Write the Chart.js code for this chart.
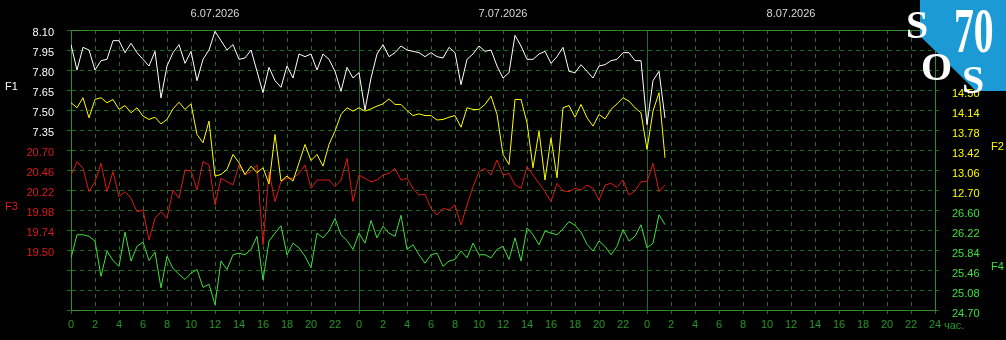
<!DOCTYPE html>
<html><head><meta charset="utf-8">
<script src="https://cdn.jsdelivr.net/npm/chart.js@4"></script>
<style>html,body{margin:0;padding:0;background:#000;overflow:hidden}canvas{display:block}</style>
</head><body>
<canvas id="c" width="1006" height="340"></canvas>
<script>
// ---- data (one value per half hour, starting 6.07.2026 00:00) ----
const hourStep = 0.5;
const f1 = [7.99,7.80,7.97,7.95,7.80,7.87,7.88,8.02,8.02,7.93,8.00,7.93,7.88,7.83,7.94,7.59,7.83,7.93,7.99,7.85,7.94,7.72,7.88,7.95,8.09,
  8.02,7.95,7.99,7.88,7.89,7.95,7.79,7.63,7.82,7.72,7.67,7.83,7.74,7.92,7.90,7.92,7.80,7.92,7.88,7.79,7.64,7.82,7.74,7.78,7.50,
  7.74,7.92,7.99,7.90,7.93,7.98,7.95,7.94,7.93,7.90,7.93,7.90,7.89,7.97,7.93,7.69,7.88,7.92,7.98,7.94,7.95,7.83,7.74,7.78,8.06,
  7.98,7.88,7.88,7.92,7.94,7.85,7.90,7.97,7.79,7.78,7.84,7.79,7.74,7.83,7.84,7.87,7.88,7.93,7.93,7.87,7.87,7.39,7.72,7.79,7.44];
const f2 = [14.27,14.18,14.36,14.00,14.33,14.36,14.27,14.33,14.15,14.22,14.09,14.18,14.03,13.97,14.01,13.89,13.97,14.16,14.28,14.15,14.25,13.70,13.55,13.94,12.95,
  12.98,13.07,13.34,13.19,12.98,13.13,13.01,13.10,12.81,13.70,12.86,12.95,12.86,13.19,13.52,13.23,13.34,13.13,13.52,13.76,14.06,14.18,14.12,14.18,14.12,
  14.16,14.21,14.25,14.34,14.24,14.24,14.13,14.04,14.07,14.04,14.04,13.96,13.97,14.01,14.04,13.83,14.18,14.15,14.15,14.24,14.39,14.06,13.34,13.16,14.33,
  14.33,13.91,13.10,13.76,12.88,13.64,12.92,14.18,14.22,14.01,14.24,14.00,13.85,14.06,13.98,14.15,14.25,14.36,14.30,14.18,14.09,13.43,14.12,14.45,13.28];
const f3 = [20.40,20.56,20.48,20.20,20.32,20.54,20.20,20.44,20.14,20.20,20.12,19.96,19.98,19.62,19.88,19.96,19.88,20.22,20.12,20.46,20.45,20.22,20.56,20.52,20.04,
  20.36,20.32,20.28,20.52,20.40,20.44,20.52,19.56,20.44,20.08,20.32,20.36,20.36,20.42,20.52,20.24,20.34,20.34,20.34,20.26,20.34,20.60,20.08,20.40,20.36,
  20.32,20.34,20.40,20.42,20.48,20.34,20.36,20.24,20.16,20.17,20.00,19.92,20.00,19.98,20.04,19.80,20.04,20.26,20.44,20.48,20.40,20.58,20.40,20.42,20.28,
  20.24,20.50,20.40,20.30,20.20,20.08,20.30,20.21,20.20,20.24,20.22,20.28,20.24,20.10,20.28,20.30,20.25,20.34,20.16,20.21,20.32,20.32,20.54,20.20,20.28];
const f4 = [25.69,26.13,26.13,26.10,26.01,25.34,25.82,25.64,25.53,26.18,25.63,25.91,25.99,25.64,25.80,25.12,25.72,25.49,25.38,25.28,25.40,25.47,25.13,25.19,24.80,
  25.63,25.47,25.75,25.78,25.75,25.85,26.10,25.27,26.01,26.16,26.30,25.75,25.97,25.88,25.72,25.50,26.16,26.07,26.20,26.44,26.13,26.02,25.85,26.16,25.97,
  26.40,26.07,26.29,26.16,26.10,26.50,25.85,25.94,25.75,25.59,25.75,25.78,25.53,25.63,25.66,25.82,25.69,25.97,25.75,25.75,25.69,25.85,25.91,25.66,26.07,
  25.63,26.26,26.13,25.94,26.20,26.16,26.13,26.24,26.38,26.31,26.18,25.95,25.82,26.01,25.91,25.75,25.91,26.23,26.01,26.10,26.32,25.88,25.97,26.51,26.32];

const xTickLabels = ["0","2","4","6","8","10","12","14","16","18","20","22",
  "0","2","4","6","8","10","12","14","16","18","20","22",
  "0","2","4","6","8","10","12","14","16","18","20","22","24"];
const xUnit = "час.";
const dateLabels = ["6.07.2026","7.07.2026","8.07.2026"];
const dateHours = [12, 36, 60];
// grid rows 0 (top) .. 14 (bottom)
const leftTickLabels = ["8.10","7.95","7.80","7.65","7.50","7.35","20.70","20.46","20.22","19.98","19.74","19.50","","",""];
const rightTickLabels = ["","","","14.50","14.14","13.78","13.42","13.06","12.70","26.60","26.22","25.84","25.46","25.08","24.70"];
const rangeF1 = [6.00, 8.10];
const rangeF2 = [10.54, 15.58];
const rangeF3 = [18.78, 22.14];
const rangeF4 = [24.70, 30.02];
const seriesNames = ["F1","F2","F3","F4"];

// ---- styles ----
const WHITE = '#ffffff', YELLOW = '#ffff00', RED = '#e01818', GREEN = '#3ee03e';
const GRID = 'rgb(34,110,24)', FRAME = 'rgb(46,140,34)', XLAB = 'rgb(40,150,40)';
const FONT = {family: '"Liberation Sans", Arial, sans-serif', size: 11};
const DASH = [4, 4];
const leftColors = leftTickLabels.map((t, i) => i < 6 ? WHITE : RED);
const rightColors = rightTickLabels.map((t, i) => i < 9 ? YELLOW : GREEN);
const rowOf = ctx => Math.round(ctx.tick ? ctx.tick.value : 0);

const pts = arr => arr.map((v, i) => ({x: i * hourStep, y: v}));

const deco = {
  id: 'deco',
  beforeDraw(chart) {
    const c = chart.ctx;
    c.save(); c.fillStyle = '#000'; c.fillRect(0, 0, chart.width, chart.height); c.restore();
  },
  afterDraw(chart) {
    const c = chart.ctx, xs = chart.scales.x;
    c.save();
    c.font = '11px "Liberation Sans", Arial, sans-serif';
    c.textBaseline = 'middle';
    c.fillStyle = XLAB; c.textAlign = 'left';
    c.fillText(xUnit, xs.getPixelForValue(72) + 9, 326);
    c.fillStyle = WHITE; c.fillText(seriesNames[0], 5, 87);
    c.fillStyle = RED; c.fillText(seriesNames[2], 5, 207);
    c.fillStyle = YELLOW; c.fillText(seriesNames[1], 991, 147);
    c.fillStyle = GREEN; c.fillText(seriesNames[3], 991, 267);
    // logo
    c.fillStyle = '#1b9ad6';
    c.beginPath(); c.moveTo(920, 0); c.lineTo(1006, 0); c.lineTo(1006, 91); c.lineTo(976, 91); c.lineTo(920, 36); c.closePath(); c.fill();
    c.fillStyle = '#ffffff'; c.textBaseline = 'alphabetic'; c.textAlign = 'left';
    c.font = 'bold 40px "Liberation Serif", serif';
    c.fillText('S', 906, 38);
    c.fillText('O', 921, 80);
    c.fillText('S', 962, 93);
    c.save(); c.translate(954, 52); c.scale(0.62, 1);
    c.font = 'bold 64px "Liberation Serif", serif';
    c.fillText('70', 0, 0);
    c.restore();
    c.restore();
  }
};

const lineDs = (label, data, axis, color) => ({
  label, data: pts(data), yAxisID: axis, borderColor: color, borderWidth: 1,
  pointRadius: 0, tension: 0, fill: false
});

new Chart(document.getElementById('c'), {
  type: 'line',
  data: {datasets: [
    lineDs('F1', f1, 'yF1', WHITE),
    lineDs('F2', f2, 'yF2', YELLOW),
    lineDs('F3', f3, 'yF3', RED),
    lineDs('F4', f4, 'yF4', GREEN)
  ]},
  options: {
    responsive: false, animation: false,
    layout: {padding: 0},
    plugins: {legend: {display: false}, tooltip: {enabled: false}},
    scales: {
      x: {
        type: 'linear', position: 'bottom', min: 0, max: 72,
        afterFit: s => { s.height = 30; },
        ticks: {stepSize: 2, autoSkip: false, maxRotation: 0, color: XLAB, font: FONT, padding: 4,
          callback: (v) => xTickLabels[Math.round(v / 2)]},
        grid: {color: GRID, tickLength: 4},
        border: {color: FRAME, dash: ctx => (ctx.tick && ctx.tick.value % 24 === 0) ? [] : DASH}
      },
      xTop: {
        type: 'linear', position: 'top', min: 0, max: 72,
        afterFit: s => { s.height = 30; },
        afterBuildTicks: s => { s.ticks = dateHours.map(v => ({value: v})); },
        ticks: {color: '#d8d8d8', font: FONT, padding: 9, maxRotation: 0, autoSkip: false,
          callback: (v) => dateLabels[dateHours.indexOf(v)]},
        grid: {display: false, drawTicks: false},
        border: {display: true, color: FRAME}
      },
      yL: {
        type: 'linear', position: 'left', min: 0, max: 14, reverse: true,
        afterFit: s => { s.width = 71; },
        ticks: {stepSize: 1, autoSkip: false, font: FONT, padding: 13, labelOffset: 3,
          color: ctx => leftColors[rowOf(ctx)], callback: (v) => leftTickLabels[Math.round(v)]},
        grid: {color: GRID, tickLength: 4},
        border: {color: FRAME, dash: ctx => (ctx.tick && (ctx.tick.value === 0 || ctx.tick.value === 14)) ? [] : DASH}
      },
      yR: {
        type: 'linear', position: 'right', min: 0, max: 14, reverse: true,
        afterFit: s => { s.width = 71; },
        ticks: {stepSize: 1, autoSkip: false, font: FONT, padding: 13, labelOffset: 4,
          color: ctx => rightColors[rowOf(ctx)], callback: (v) => rightTickLabels[Math.round(v)]},
        grid: {color: GRID, tickLength: 4, drawOnChartArea: false},
        border: {color: FRAME, dash: DASH}
      },
      yF1: {display: false, min: rangeF1[0], max: rangeF1[1]},
      yF2: {display: false, min: rangeF2[0], max: rangeF2[1]},
      yF3: {display: false, min: rangeF3[0], max: rangeF3[1]},
      yF4: {display: false, min: rangeF4[0], max: rangeF4[1]}
    }
  },
  plugins: [deco]
});
</script>
</body></html>
